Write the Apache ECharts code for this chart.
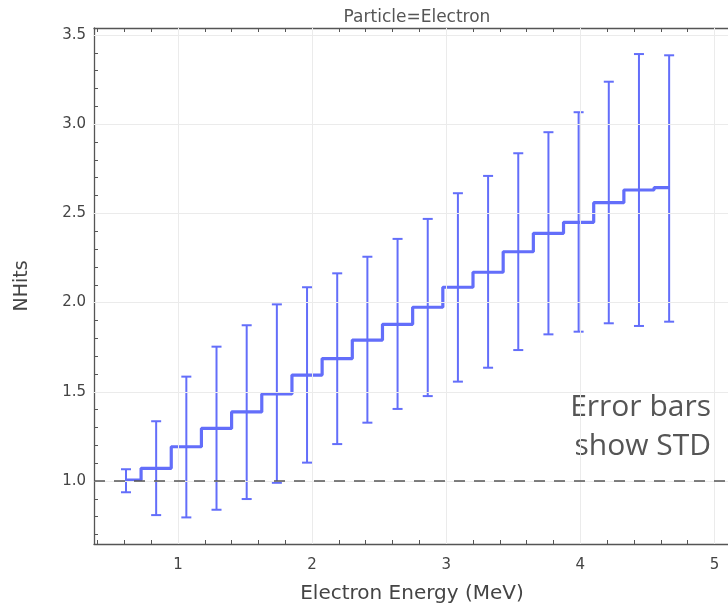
<!DOCTYPE html>
<html>
<head>
<meta charset="utf-8">
<script src="https://cdn.jsdelivr.net/npm/echarts@6/dist/echarts.min.js"></script>
<style>
html,body{margin:0;padding:0;background:#fff;overflow:hidden;width:728px;height:607px;}
#c{width:760px;height:607px;}
</style>
</head>
<body>
<div id="c"></div>
<script>
// ---- data ----
const energy = [0.6125, 0.8375, 1.0625, 1.2875, 1.5125, 1.7375, 1.9625, 2.1875, 2.4125, 2.6375,
                2.8625, 3.0875, 3.3125, 3.5375, 3.7625, 3.9875, 4.2125, 4.4375, 4.6625];
const meanHits = [1.005, 1.071, 1.192, 1.295, 1.387, 1.488, 1.594, 1.686, 1.790, 1.878,
                  1.974, 2.086, 2.170, 2.285, 2.388, 2.450, 2.560, 2.631, 2.644];
const upperHits = [1.066, 1.335, 1.585, 1.753, 1.873, 1.990, 2.086, 2.164, 2.257, 2.357,
                   2.469, 2.613, 2.710, 2.837, 2.955, 3.067, 3.238, 3.393, 3.386];
const lowerHits = [0.937, 0.809, 0.796, 0.839, 0.899, 0.990, 1.103, 1.207, 1.327, 1.404,
                   1.476, 1.557, 1.635, 1.734, 1.822, 1.837, 1.884, 1.869, 1.893];
const xTickLabels = [1, 2, 3, 4, 5];
const xMinorTicks = [0.4, 0.6, 0.8, 1.0, 1.2, 1.4, 1.6, 1.8, 2.0, 2.2, 2.4, 2.6, 2.8, 3.0, 3.2,
                     3.4, 3.6, 3.8, 4.0, 4.2, 4.4, 4.6, 4.8, 5.0, 5.2];
const yTickLabels = [1.0, 1.5, 2.0, 2.5, 3.0, 3.5];
const yMinorTicks = [0.7, 0.8, 0.9, 1.0, 1.1, 1.2, 1.3, 1.4, 1.5, 1.6, 1.7, 1.8, 1.9, 2.0, 2.1,
                     2.2, 2.3, 2.4, 2.5, 2.6, 2.7, 2.8, 2.9, 3.0, 3.1, 3.2, 3.3, 3.4, 3.5];
const referenceLevel = 1.0;

const BLUE = '#636efa';
const AXIS = '#555';
const FONT = 'DejaVu Sans';

const chart = echarts.init(document.getElementById('c'), null, {renderer: 'canvas'});

const stepData = energy.map((x, i) => [x, meanHits[i]]);
const errData = energy.map((x, i) => [x, lowerHits[i], upperHits[i]]);

const gridMarks = [];
xTickLabels.forEach(v => gridMarks.push({xAxis: v}));
yTickLabels.forEach(v => gridMarks.push({yAxis: v}));

function xAxisCommon(pos, showLabel) {
  return {
    type: 'value', position: pos, min: 0.374, max: 5.34,
    axisLine: {show: true, onZero: false, lineStyle: {color: AXIS, width: 1.3}},
    axisTick: {show: true, inside: true, length: 4, customValues: xMinorTicks, lineStyle: {color: AXIS}},
    axisLabel: {show: showLabel, customValues: xTickLabels, color: '#444', fontFamily: FONT, fontSize: 15, margin: 14},
    splitLine: {show: false}
  };
}

chart.setOption({
  animation: false,
  backgroundColor: '#fff',
  title: {
    text: 'Particle=Electron', left: 412, top: 4, textAlign: 'center',
    textStyle: {color: '#555', fontFamily: FONT, fontSize: 17, fontWeight: 'normal'}
  },
  grid: {left: 94, right: 0, top: 28, bottom: 63, containLabel: false},
  xAxis: [xAxisCommon('bottom', true), xAxisCommon('top', false)],
  yAxis: {
    type: 'value', min: 0.647, max: 3.539,
    name: 'NHits', nameLocation: 'middle', nameGap: 62, nameRotate: 90,
    nameTextStyle: {color: '#444', fontFamily: FONT, fontSize: 19},
    axisLine: {show: true, onZero: false, lineStyle: {color: AXIS, width: 1.3}},
    axisTick: {show: true, inside: true, length: 4, customValues: yMinorTicks, lineStyle: {color: AXIS}},
    axisLabel: {customValues: yTickLabels, formatter: v => v.toFixed(1), color: '#444', fontFamily: FONT, fontSize: 15, margin: 8},
    splitLine: {show: false}
  },
  graphic: [
    {type: 'text', x: 412, y: 594, style: {text: 'Electron Energy (MeV)', fill: '#444', font: '20px "DejaVu Sans"', textAlign: 'center', textVerticalAlign: 'middle'}},
    {type: 'text', x: 711, y: 388, style: {text: 'Error bars\nshow STD', fill: '#555', font: '30px "Open Sans"', textAlign: 'right', lineHeight: 39}}
  ],
  series: [
    {
      type: 'line', data: [], z: 1, silent: true,
      markLine: {
        silent: true, symbol: 'none', label: {show: false},
        lineStyle: {color: '#ebebeb', width: 1, type: 'solid'},
        data: gridMarks
      }
    },
    {
      type: 'line', data: [], z: 2, silent: true,
      markLine: {
        silent: true, symbol: 'none', label: {show: false},
        lineStyle: {color: '#555', width: 1.6, type: [11, 9]},
        data: [{yAxis: referenceLevel}]
      }
    },
    {
      type: 'custom', z: 3, data: errData,
      encode: {x: 0, y: [1, 2]},
      renderItem: function (params, api) {
        const x = api.value(0);
        const pLo = api.coord([x, api.value(1)]);
        const pHi = api.coord([x, api.value(2)]);
        const w = 5;
        const st = {stroke: BLUE, lineWidth: 2};
        return {
          type: 'group',
          children: [
            {type: 'line', shape: {x1: pLo[0], y1: pLo[1], x2: pHi[0], y2: pHi[1]}, style: st},
            {type: 'line', shape: {x1: pHi[0] - w, y1: pHi[1], x2: pHi[0] + w, y2: pHi[1]}, style: st},
            {type: 'line', shape: {x1: pLo[0] - w, y1: pLo[1], x2: pLo[0] + w, y2: pLo[1]}, style: st}
          ]
        };
      }
    },
    {
      type: 'line', z: 4, data: stepData, step: 'middle', showSymbol: false,
      lineStyle: {color: BLUE, width: 3.2}
    }
  ]
});
</script>
</body>
</html>
